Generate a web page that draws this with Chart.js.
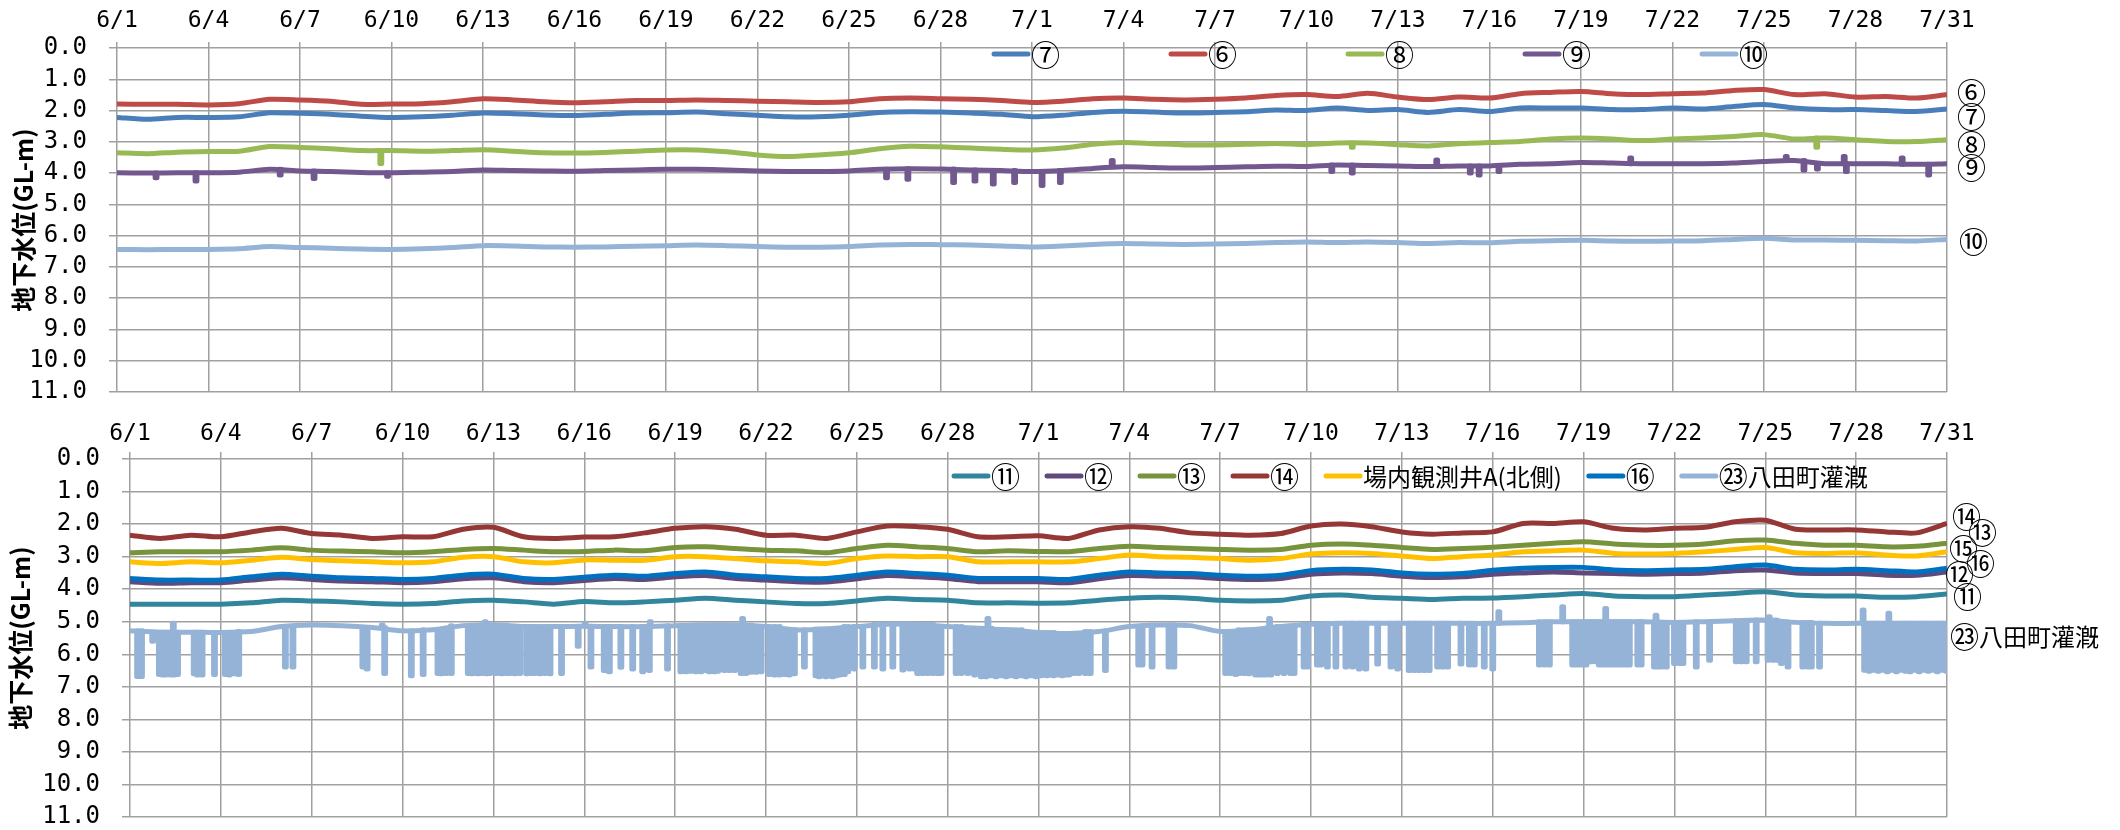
<!DOCTYPE html>
<html>
<head>
<meta charset="utf-8">
<script src="https://cdn.jsdelivr.net/npm/chart.js@4.4.1/dist/chart.umd.min.js"></script>
<style>
  body { margin: 0; background: #fff; }
  canvas { position: absolute; left: 0; }
  #topChart { top: 0; }
  #bottomChart { top: 410px; }
</style>
</head>
<body>
<canvas id="topChart" width="2120" height="410"></canvas>
<canvas id="bottomChart" width="2120" height="420"></canvas>
<script>
// x axis: day 0 = 6/1 ... day 60 = 7/31, one tick every 3 days
const dateLabels = ["6/1", "6/4", "6/7", "6/10", "6/13", "6/16", "6/19", "6/22", "6/25", "6/28",
  "7/1", "7/4", "7/7", "7/10", "7/13", "7/16", "7/19", "7/22", "7/25", "7/28", "7/31"];

// ---- upper chart, daily readings (GL-m), day 0..60 ----
const w7 = [2.22, 2.28, 2.22, 2.22, 2.2, 2.07, 2.09, 2.12, 2.18, 2.22, 2.2, 2.15, 2.08, 2.1, 2.14,
  2.16, 2.12, 2.08, 2.07, 2.05, 2.1, 2.15, 2.2, 2.2, 2.15, 2.06, 2.04, 2.05, 2.08, 2.12,
  2.2, 2.15, 2.06, 2.02, 2.05, 2.08, 2.06, 2.04, 1.98, 2.0, 1.92, 2.0, 1.97, 2.06, 1.97,
  2.03, 1.92, 1.92, 1.92, 1.97, 1.97, 1.92, 1.95, 1.87, 1.81, 1.92, 1.97, 1.97, 2.0, 2.03, 1.95];
const w6 = [1.79, 1.8, 1.8, 1.82, 1.78, 1.64, 1.66, 1.7, 1.8, 1.79, 1.78, 1.72, 1.62, 1.66, 1.72,
  1.75, 1.72, 1.68, 1.68, 1.66, 1.68, 1.7, 1.72, 1.74, 1.72, 1.62, 1.6, 1.62, 1.64, 1.68,
  1.74, 1.7, 1.62, 1.6, 1.64, 1.66, 1.64, 1.6, 1.52, 1.49, 1.55, 1.45, 1.57, 1.65, 1.57,
  1.6, 1.46, 1.42, 1.39, 1.46, 1.49, 1.46, 1.44, 1.36, 1.33, 1.49, 1.46, 1.57, 1.55, 1.6, 1.49];
const w8 = [3.35, 3.38, 3.33, 3.31, 3.3, 3.15, 3.18, 3.22, 3.28, 3.28, 3.3, 3.28, 3.25, 3.3, 3.35,
  3.36, 3.34, 3.3, 3.26, 3.26, 3.32, 3.42, 3.47, 3.42, 3.35, 3.22, 3.14, 3.16, 3.2, 3.24,
  3.26, 3.2, 3.08, 3.02, 3.06, 3.1, 3.1, 3.08, 3.05, 3.09, 3.04, 3.04, 3.09, 3.13, 3.06,
  3.02, 2.99, 2.91, 2.88, 2.91, 2.96, 2.91, 2.88, 2.83, 2.77, 2.91, 2.88, 2.93, 2.99, 2.99, 2.93];
const w9 = [3.99, 4.0, 3.99, 3.99, 3.97, 3.88, 3.93, 3.95, 3.98, 3.99, 3.97, 3.95, 3.9, 3.92, 3.93,
  3.94, 3.92, 3.9, 3.88, 3.88, 3.9, 3.93, 3.95, 3.95, 3.93, 3.88, 3.86, 3.87, 3.9, 3.92,
  3.95, 3.92, 3.85, 3.8, 3.82, 3.84, 3.82, 3.8, 3.78, 3.79, 3.74, 3.76, 3.77, 3.79, 3.77,
  3.77, 3.72, 3.7, 3.66, 3.68, 3.7, 3.7, 3.7, 3.68, 3.63, 3.6, 3.7, 3.7, 3.7, 3.72, 3.7];
const w10 = [6.44, 6.45, 6.44, 6.44, 6.42, 6.35, 6.38, 6.4, 6.43, 6.44, 6.42, 6.38, 6.32, 6.33, 6.36,
  6.37, 6.36, 6.34, 6.32, 6.3, 6.32, 6.35, 6.37, 6.37, 6.35, 6.3, 6.28, 6.29, 6.3, 6.33,
  6.36, 6.33, 6.28, 6.25, 6.27, 6.28, 6.27, 6.25, 6.22, 6.2, 6.22, 6.2, 6.22, 6.25, 6.22,
  6.23, 6.18, 6.16, 6.15, 6.17, 6.18, 6.17, 6.16, 6.12, 6.08, 6.14, 6.14, 6.15, 6.16, 6.17, 6.12];
// short excursions [day, level]
const w8Spikes = [[8.62, 3.69], [40.47, 3.17], [55.7, 3.17]];
const w9Spikes = [[1.25, 4.15], [2.56, 4.25], [5.32, 4.06], [6.43, 4.17], [8.84, 4.1],
  [25.2, 4.15], [25.9, 4.2], [27.4, 4.3], [28.1, 4.25], [28.7, 4.35], [29.4, 4.3], [30.3, 4.4], [30.9, 4.3],
  [32.6, 3.6], [39.8, 3.95], [40.47, 4.0], [43.24, 3.58], [44.34, 4.0], [44.63, 4.06], [45.28, 3.95],
  [49.6, 3.52], [54.7, 3.47], [55.28, 3.9], [55.72, 3.87], [56.6, 3.47], [56.67, 3.95], [58.5, 3.52], [59.37, 4.06]];
const topTags = ["⑥", "⑦", "⑧", "⑨", "⑩"];
const topTagValues = [1.44, 2.2, 3.1, 3.84, 6.2];

// ---- lower chart ----
const w11 = [4.46, 4.46, 4.46, 4.46, 4.42, 4.34, 4.36, 4.39, 4.44, 4.46, 4.44, 4.36, 4.34, 4.39, 4.46,
  4.38, 4.42, 4.39, 4.34, 4.28, 4.34, 4.39, 4.44, 4.44, 4.36, 4.28, 4.32, 4.34, 4.42, 4.42,
  4.43, 4.42, 4.34, 4.28, 4.25, 4.28, 4.34, 4.36, 4.34, 4.21, 4.18, 4.25, 4.28, 4.32, 4.28,
  4.27, 4.23, 4.18, 4.13, 4.21, 4.23, 4.23, 4.18, 4.13, 4.08, 4.18, 4.21, 4.21, 4.25, 4.23, 4.15];
const w12 = [3.77, 3.82, 3.8, 3.8, 3.72, 3.65, 3.7, 3.75, 3.77, 3.8, 3.77, 3.68, 3.65, 3.77, 3.8,
  3.73, 3.67, 3.7, 3.62, 3.58, 3.67, 3.72, 3.77, 3.78, 3.68, 3.58, 3.62, 3.67, 3.77, 3.77,
  3.77, 3.8, 3.68, 3.58, 3.6, 3.62, 3.67, 3.7, 3.67, 3.54, 3.5, 3.52, 3.6, 3.64, 3.62,
  3.54, 3.5, 3.47, 3.5, 3.52, 3.54, 3.52, 3.5, 3.43, 3.41, 3.5, 3.52, 3.52, 3.57, 3.57, 3.47];
const w13 = [2.88, 2.85, 2.85, 2.85, 2.8, 2.73, 2.8, 2.83, 2.85, 2.88, 2.85, 2.78, 2.75, 2.8, 2.85,
  2.84, 2.8, 2.82, 2.72, 2.7, 2.75, 2.8, 2.82, 2.88, 2.75, 2.65, 2.7, 2.75, 2.85, 2.82,
  2.84, 2.85, 2.75, 2.68, 2.72, 2.75, 2.78, 2.8, 2.78, 2.65, 2.61, 2.65, 2.72, 2.78, 2.75,
  2.71, 2.65, 2.59, 2.54, 2.61, 2.65, 2.65, 2.61, 2.51, 2.49, 2.59, 2.65, 2.65, 2.7, 2.68, 2.59];
const w14 = [2.34, 2.44, 2.34, 2.39, 2.24, 2.13, 2.29, 2.34, 2.44, 2.39, 2.39, 2.16, 2.1, 2.39, 2.44,
  2.4, 2.39, 2.27, 2.13, 2.08, 2.16, 2.34, 2.34, 2.44, 2.24, 2.06, 2.08, 2.16, 2.39, 2.39,
  2.36, 2.44, 2.18, 2.08, 2.13, 2.27, 2.31, 2.34, 2.29, 2.06, 2.0, 2.08, 2.24, 2.31, 2.27,
  2.24, 1.98, 1.98, 1.93, 2.13, 2.18, 2.13, 2.1, 1.93, 1.88, 2.16, 2.18, 2.18, 2.24, 2.27, 1.98];
const wA = [3.16, 3.21, 3.16, 3.19, 3.11, 3.02, 3.09, 3.13, 3.16, 3.19, 3.16, 3.02, 3.0, 3.16, 3.19,
  3.1, 3.11, 3.11, 3.0, 3.0, 3.06, 3.13, 3.16, 3.21, 3.06, 2.98, 3.0, 3.0, 3.16, 3.16,
  3.16, 3.16, 3.06, 2.95, 3.0, 3.02, 3.06, 3.11, 3.06, 2.92, 2.88, 2.9, 2.98, 3.06, 3.0,
  2.95, 2.85, 2.82, 2.8, 2.9, 2.92, 2.9, 2.85, 2.78, 2.72, 2.88, 2.9, 2.88, 2.95, 2.98, 2.85];
const w16 = [3.67, 3.72, 3.72, 3.72, 3.62, 3.54, 3.6, 3.65, 3.67, 3.7, 3.67, 3.57, 3.54, 3.67, 3.7,
  3.63, 3.57, 3.6, 3.52, 3.47, 3.57, 3.62, 3.67, 3.67, 3.57, 3.47, 3.52, 3.57, 3.67, 3.67,
  3.67, 3.7, 3.57, 3.47, 3.5, 3.52, 3.57, 3.6, 3.57, 3.43, 3.39, 3.41, 3.5, 3.54, 3.52,
  3.42, 3.36, 3.33, 3.33, 3.41, 3.43, 3.41, 3.39, 3.31, 3.26, 3.39, 3.41, 3.39, 3.43, 3.47, 3.36];
// irrigation well: resting level + pumping drops
const w23 = [5.28, 5.32, 5.32, 5.33, 5.3, 5.15, 5.1, 5.12, 5.18, 5.28, 5.25, 5.12, 5.1, 5.15, 5.15,
  5.14, 5.15, 5.15, 5.12, 5.1, 5.1, 5.15, 5.25, 5.22, 5.15, 5.08, 5.08, 5.15, 5.2, 5.25,
  5.33, 5.36, 5.3, 5.15, 5.1, 5.12, 5.3, 5.25, 5.15, 5.08, 5.05, 5.05, 5.05, 5.05, 5.05,
  5.05, 5.03, 5.0, 5.0, 5.0, 5.0, 5.02, 5.0, 4.97, 4.95, 5.02, 5.05, 5.05, 5.05, 5.05, 5.05];
const w23Spikes = [[0.22, 6.68], [0.35, 6.68], [0.72, 5.6], [0.94, 6.62], [1.05, 6.64], [1.14, 6.64], [1.21, 6.6],
  [1.32, 6.64], [1.4, 5.05], [1.43, 6.64], [1.54, 6.62], [2.09, 6.6], [2.2, 6.64], [2.35, 6.64], [2.76, 6.62],
  [3.12, 6.62], [3.25, 6.64], [3.42, 6.6], [3.56, 6.62], [5.1, 6.39], [5.35, 6.39], [7.66, 6.39], [7.8, 6.45],
  [8.3, 5.1], [8.38, 6.59], [9.26, 6.66], [9.65, 6.62], [10.14, 6.59], [10.25, 6.6], [10.42, 6.59], [10.58, 6.59],
  [11.14, 6.59], [11.25, 6.6], [11.36, 6.59], [11.47, 6.6], [11.58, 6.59], [11.7, 5.0], [11.74, 6.6], [11.85, 6.59],
  [12.07, 6.59], [12.24, 6.6], [12.4, 6.59], [12.51, 6.59], [12.68, 6.6], [12.84, 6.59], [13.07, 6.6], [13.23, 6.59],
  [13.34, 6.59], [13.5, 6.6], [13.67, 6.59], [13.84, 6.6], [14.22, 6.59], [14.77, 5.75], [15.0, 5.05],
  [15.19, 6.39], [15.63, 6.5], [15.8, 6.54], [16.18, 6.4], [16.57, 6.45], [16.9, 6.54], [17.12, 6.5], [17.15, 5.0],
  [17.72, 6.45], [18.16, 6.54], [18.33, 6.54], [18.49, 6.52], [18.66, 6.54], [18.82, 6.54], [18.99, 6.5], [19.1, 6.54],
  [19.27, 6.54], [19.38, 6.52], [19.6, 6.5], [19.76, 6.5], [19.93, 6.5], [20.15, 6.59], [20.2, 4.9], [20.31, 6.59],
  [20.48, 6.55], [20.64, 6.55], [20.81, 6.54], [21.08, 6.62], [21.25, 6.64], [21.41, 6.64], [21.58, 6.62], [21.74, 6.64],
  [21.91, 6.6], [22.24, 6.39], [22.62, 6.66], [22.73, 6.69], [22.84, 6.66], [22.95, 6.69], [23.06, 6.66], [23.17, 6.69],
  [23.28, 6.66], [23.4, 6.64], [23.56, 6.62], [23.67, 6.54], [23.89, 6.45], [24.17, 6.39], [24.55, 6.39], [24.83, 6.45],
  [25.16, 6.39], [25.49, 6.48], [25.71, 6.45], [25.87, 6.45], [25.98, 6.59], [26.15, 6.59], [26.31, 6.59], [26.48, 6.59],
  [26.64, 6.59], [26.75, 6.59], [27.25, 6.59], [27.42, 6.59], [27.64, 6.59], [27.86, 6.64], [28.08, 6.69], [28.24, 6.69],
  [28.3, 4.9], [28.41, 6.66], [28.57, 6.69], [28.74, 6.66], [28.9, 6.69], [29.07, 6.66], [29.23, 6.69], [29.4, 6.66],
  [29.56, 6.69], [29.73, 6.66], [29.89, 6.69], [30.06, 6.66], [30.14, 6.64], [30.25, 6.66], [30.36, 6.64], [30.47, 6.66],
  [30.64, 6.64], [30.75, 6.66], [30.86, 6.64], [30.97, 6.64], [31.13, 6.59], [31.3, 6.59], [31.52, 6.59], [31.68, 6.59],
  [32.18, 6.5], [33.28, 6.33], [33.39, 6.33], [33.72, 6.39], [34.28, 6.39], [34.44, 6.39], [36.15, 6.59], [36.31, 6.59],
  [36.48, 6.62], [36.59, 6.59], [36.76, 6.59], [36.92, 6.6], [37.14, 6.64], [37.25, 6.64], [37.36, 6.64], [37.47, 6.64],
  [37.6, 4.9], [37.64, 6.64], [37.86, 6.59], [38.08, 6.59], [38.3, 6.59], [38.41, 6.59], [38.74, 6.39], [38.85, 6.39],
  [39.18, 6.33], [39.29, 6.33], [39.51, 6.39], [39.79, 6.39], [40.12, 6.39], [40.34, 6.39], [40.56, 6.45], [40.78, 6.45],
  [41.17, 6.3], [41.61, 6.39], [41.83, 6.45], [42.21, 6.5], [42.38, 6.5], [42.54, 6.5], [42.71, 6.5], [42.87, 6.5],
  [43.15, 6.39], [43.32, 6.39], [43.48, 6.39], [43.92, 6.3], [44.2, 6.33], [44.36, 6.33], [44.69, 6.39], [44.97, 6.45],
  [45.17, 4.69], [46.51, 6.33], [46.68, 6.33], [46.84, 6.33], [47.28, 4.54], [47.61, 6.33], [47.72, 6.33], [47.83, 6.33],
  [47.94, 6.33], [48.05, 6.33], [48.22, 6.23], [48.38, 6.23], [48.49, 6.33], [48.6, 6.33], [48.7, 4.59], [48.71, 6.33],
  [48.82, 6.33], [48.93, 6.33], [49.04, 6.33], [49.15, 6.33], [49.26, 6.33], [49.37, 6.33], [49.48, 6.33], [49.76, 6.33],
  [49.87, 6.33], [50.31, 6.39], [50.36, 4.8], [50.42, 6.39], [50.53, 6.39], [50.7, 6.39], [50.97, 6.28], [51.14, 6.28],
  [51.25, 6.28], [51.69, 6.39], [52.13, 6.18], [53.01, 6.23], [53.17, 6.23], [53.34, 6.23], [53.67, 6.23], [54.06, 6.18],
  [54.1, 4.85], [54.22, 6.18], [54.33, 6.18], [54.5, 6.28], [54.72, 6.39], [55.21, 6.39], [55.38, 6.39], [55.49, 6.39],
  [55.76, 6.39], [57.2, 4.64], [57.25, 6.49], [57.4, 6.52], [57.55, 6.49], [57.7, 6.52], [57.85, 6.49], [58.0, 6.54],
  [58.05, 4.74], [58.15, 6.49], [58.3, 6.54], [58.45, 6.49], [58.6, 6.52], [58.75, 6.54], [58.9, 6.49], [59.05, 6.54],
  [59.2, 6.49], [59.35, 6.52], [59.5, 6.49], [59.65, 6.54], [59.8, 6.49], [59.95, 6.52]];
const bottomTags = ["⑭", "⑬", "⑮", "⑯", "⑫", "⑪", "㉓八田町灌漑"];
const bottomTagValues = [1.78, 2.27, 2.77, 3.23, 3.56, 4.24, 5.47];

const FONT = '"Noto Sans CJK JP", "Noto Sans", sans-serif';
const TICK_FONT = '"DejaVu Sans Mono", monospace';
const SPIKE_DAYS = 0.06; // how long an excursion stays at its level
const CIRCLED = /[\u2460-\u24FF\u3251-\u325F]/;

function daily(vals) {
  return vals.map((v, i) => ({ x: i, y: v }));
}
// excursions drawn from the nearest daily reading and back
function excursions(base, list) {
  const pts = [];
  list.forEach(([d, v]) => {
    const rest = base[Math.round(d)];
    pts.push({ x: d, y: rest }, { x: d, y: v }, { x: d + SPIKE_DAYS, y: v },
      { x: d + SPIKE_DAYS, y: rest }, { x: d, y: null });
  });
  return pts;
}

function line(label, values, color, order) {
  return { label, data: daily(values), borderColor: color, order, tension: 0.25 };
}
function spikes(base, list, color, order) {
  return { label: "", extra: true, data: excursions(base, list), borderColor: color, order,
    borderCapStyle: "round", borderJoinStyle: "round", spanGaps: false };
}

// circled numbers are drawn a bit larger, as in the original
function drawText(ctx, text, x, y) {
  let cx = x;
  for (const ch of text) {
    ctx.font = (CIRCLED.test(ch) ? "29px " : "24px ") + FONT;
    ctx.fillText(ch, cx, y);
    cx += ctx.measureText(ch).width;
  }
  return cx - x;
}

const overlay = {
  id: "overlay",
  afterDraw(chart, args, opts) {
    const { ctx, chartArea, scales } = chart;
    ctx.save();
    ctx.textBaseline = "middle";
    ctx.textAlign = "left";
    ctx.fillStyle = "#000";
    // legend inside the plot
    let x = chartArea.left + opts.legendX;
    const y = chartArea.top + opts.legendY;
    chart.data.datasets.slice().sort((a, b) => b.order - a.order).forEach(ds => {
      if (ds.extra) return;
      ctx.strokeStyle = ds.borderColor;
      ctx.lineWidth = 5;
      ctx.lineCap = "round";
      ctx.beginPath();
      ctx.moveTo(x + 3, y);
      ctx.lineTo(x + opts.lineLen - 3, y);
      ctx.stroke();
      const w = drawText(ctx, ds.label, x + opts.lineLen, y + 1);
      x += opts.lineLen + w + opts.gap;
    });
    // labels on the right of the plot
    opts.tags.forEach((t, i) => {
      drawText(ctx, t, chartArea.right + opts.tagShift[i], scales.y.getPixelForValue(opts.tagValues[i]));
    });
    ctx.restore();
  }
};

function makeChart(id, datasets, c) {
  const grid = { color: "#a0a0a0", lineWidth: 1.5 };
  return new Chart(document.getElementById(id), {
    type: "line",
    data: { datasets },
    options: {
      responsive: false,
      animation: false,
      devicePixelRatio: 1,
      layout: { padding: c.padding },
      elements: { point: { radius: 0 }, line: { borderWidth: 5 } },
      plugins: { legend: { display: false }, tooltip: { enabled: false }, overlay: c.overlay },
      scales: {
        x: {
          type: "linear", position: "top", min: 0, max: 60,
          ticks: { stepSize: 3, padding: c.xPad, color: "#000", font: { family: TICK_FONT, size: 23 },
            maxRotation: 0, autoSkip: false, callback: v => dateLabels[v / 3] },
          grid: Object.assign({ tickLength: c.xTick }, grid),
          border: { display: false },
          afterFit: s => { s.height = 40; }
        },
        y: {
          reverse: true, min: 0, max: 11,
          ticks: { stepSize: 1, padding: 22, color: "#000", font: { family: TICK_FONT, size: 24 },
            autoSkip: false, callback: v => v.toFixed(1) },
          grid: Object.assign({ tickLength: 8 }, grid),
          border: { display: false },
          title: { display: true, text: "地下水位(GL-m)", color: "#000",
            font: { family: FONT, size: 25, weight: "bold" }, padding: { top: c.titlePad, bottom: 0 } },
          afterFit: s => { s.width = c.yWidth; s.paddingTop = 0; s.paddingBottom = 0; }
        }
      }
    },
    plugins: [overlay]
  });
}

makeChart("topChart", [
  line("⑦", w7, "#4A7EBB", 0),
  line("⑥", w6, "#BE4B48", -1),
  line("⑧", w8, "#98B954", -2),
  spikes(w8, w8Spikes, "#98B954", -2),
  line("⑨", w9, "#71588F", -3),
  spikes(w9, w9Spikes, "#71588F", -3),
  line("⑩", w10, "#95B3D7", -4)
], {
  padding: { left: 0, right: 173, top: 8, bottom: 18 },
  yWidth: 117, xPad: 7, xTick: 6, titlePad: 8,
  overlay: { legendX: 874, legendY: 6, lineLen: 40, gap: 108,
    tags: topTags, tagValues: topTagValues, tagShift: [10, 10, 10, 10, 12] }
});

makeChart("bottomChart", [
  line("⑪", w11, "#31859C", 0),
  line("⑫", w12, "#604A7B", -1),
  line("⑬", w13, "#77933C", -2),
  line("⑭", w14, "#953735", -3),
  line("場内観測井A(北側)", wA, "#FFC000", -4),
  line("⑯", w16, "#0070C0", -5),
  line("㉓八田町灌漑", w23, "#95B3D7", -6),
  spikes(w23, w23Spikes, "#95B3D7", -6)
], {
  padding: { left: 0, right: 173, top: 9, bottom: 13 },
  yWidth: 130, xPad: 4, xTick: 7, titlePad: 5,
  overlay: { legendX: 821, legendY: 17, lineLen: 40, gap: 24,
    tags: bottomTags, tagValues: bottomTagValues, tagShift: [5, 21, 2, 19, -2, 6, 3] }
});
</script>
</body>
</html>
